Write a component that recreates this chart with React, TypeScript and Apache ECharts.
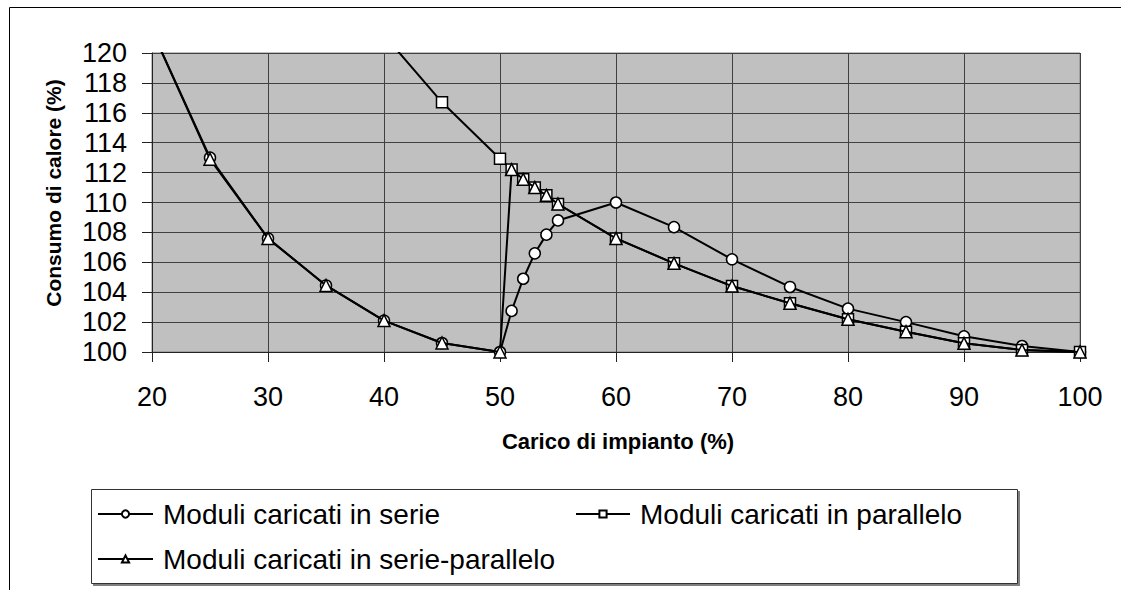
import React, { useEffect, useRef } from "react";
import * as echarts from "echarts";

const serieX = [20, 25, 30, 35, 40, 45, 50, 51, 52, 53, 54, 55, 60, 65, 70, 75, 80, 85, 90, 95, 100];
const serieY = [121.5, 113.0, 107.6, 104.45, 102.1, 100.6, 100, 102.75, 104.9, 106.6, 107.85, 108.8, 110.0, 108.35, 106.2, 104.35, 102.9, 102.0, 101.05, 100.4, 100];

const paralleloX = [40, 45, 50, 51, 52, 53, 54, 55, 60, 65, 70, 75, 80, 85, 90, 95, 100];
const paralleloY = [121.2, 116.7, 112.93, 112.2, 111.55, 111.0, 110.48, 109.9, 107.6, 105.93, 104.41, 103.26, 102.19, 101.36, 100.58, 100.13, 100];

const serieParX = [20, 25, 30, 35, 40, 45, 50, 51, 52, 53, 54, 55, 60, 65, 70, 75, 80, 85, 90, 95, 100];
const serieParY = [121.5, 112.9, 107.6, 104.45, 102.1, 100.6, 100, 112.2, 111.55, 111.0, 110.48, 109.9, 107.6, 105.93, 104.41, 103.26, 102.19, 101.36, 100.58, 100.13, 100];

const seriesNames = [
  "Moduli caricati in serie",
  "Moduli caricati in parallelo",
  "Moduli caricati in serie-parallelo",
];

const xTitle = "Carico di impianto (%)";
const yTitle = "Consumo di calore (%)";

const FONT = "'Liberation Sans', Arial, sans-serif";

function pairs(xs: number[], ys: number[]) {
  return xs.map((x, i) => [x, ys[i]]);
}

export default function App() {
  const ref = useRef<HTMLDivElement>(null);
  useEffect(() => {
    if (!ref.current) return;
    const chart = echarts.init(ref.current, undefined, { renderer: "svg" });
    const mkSeries = (name: string, data: number[][], symbol: string, size: number, z: number) => ({
      name,
      type: "line",
      data,
      symbol,
      symbolSize: size,
      clip: true,
      z,
      lineStyle: { color: "#000", width: 2 },
      itemStyle: { color: "#fff", borderColor: "#000", borderWidth: 1.5 },
      emphasis: { disabled: true },
    });
    const legendCommon = {
      orient: "horizontal",
      padding: 0,
      itemHeight: 9,
      selectedMode: false,
      textStyle: { fontFamily: FONT, fontSize: 28, color: "#000", padding: [0, 0, 0, 5] },
    };
    chart.setOption({
      animation: false,
      backgroundColor: "#fff",
      grid: {
        left: 152,
        top: 53,
        right: 41,
        bottom: 238,
        show: true,
        backgroundColor: "#C0C0C0",
        borderColor: "#808080",
        borderWidth: 1,
      },
      xAxis: {
        type: "value",
        min: 20,
        max: 100,
        interval: 10,
        axisLine: { show: true, onZero: false, lineStyle: { color: "#222", width: 1 } },
        axisTick: { show: true, inside: false, length: 10, lineStyle: { color: "#222" } },
        axisLabel: { fontFamily: FONT, fontSize: 27, color: "#000", margin: 31 },
        splitLine: { show: true, lineStyle: { color: "#404040", width: 1 } },
      },
      yAxis: {
        type: "value",
        min: 100,
        max: 120,
        interval: 2,
        axisLine: { show: true, lineStyle: { color: "#222", width: 1 } },
        axisTick: { show: true, inside: false, length: 10, lineStyle: { color: "#222" } },
        axisLabel: { fontFamily: FONT, fontSize: 27, color: "#000", margin: 25 },
        splitLine: { show: true, lineStyle: { color: "#404040", width: 1 } },
      },
      legend: [
        { ...legendCommon, data: [seriesNames[0]], left: 97, top: 500, itemWidth: 55 },
        { ...legendCommon, data: [seriesNames[1]], left: 575, top: 500, itemWidth: 54 },
        { ...legendCommon, data: [seriesNames[2]], left: 97, top: 545, itemWidth: 55 },
      ],
      graphic: [
        {
          type: "rect",
          z: -10,
          silent: true,
          shape: { x: 9.5, y: 7.5, width: 1120, height: 600 },
          style: { fill: "none", stroke: "#000", lineWidth: 1 },
        },
        {
          type: "rect",
          z: -10,
          silent: true,
          shape: { x: 93, y: 491, width: 927, height: 95 },
          style: { fill: "#808080" },
        },
        {
          type: "rect",
          z: -9,
          silent: true,
          shape: { x: 91.5, y: 489.5, width: 926, height: 94 },
          style: { fill: "#fff", stroke: "#333", lineWidth: 1 },
        },
        {
          type: "text",
          silent: true,
          x: 618,
          y: 441,
          style: {
            text: xTitle,
            font: `bold 22px ${FONT}`,
            fill: "#000",
            align: "center",
            verticalAlign: "middle",
          },
        },
        {
          type: "text",
          silent: true,
          x: 53,
          y: 193,
          rotation: Math.PI / 2,
          style: {
            text: yTitle,
            font: `bold 21px ${FONT}`,
            fill: "#000",
            align: "center",
            verticalAlign: "middle",
          },
        },
      ],
      series: [
        mkSeries(seriesNames[0], pairs(serieX, serieY), "circle", 11, 2),
        mkSeries(seriesNames[1], pairs(paralleloX, paralleloY), "rect", 11, 3),
        mkSeries(seriesNames[2], pairs(serieParX, serieParY), "triangle", 12, 4),
      ],
    });
    return () => chart.dispose();
  }, []);
  return (
    <div
      ref={ref}
      style={{ position: "absolute", left: 0, top: 0, width: 1121, height: 590 }}
    />
  );
}
